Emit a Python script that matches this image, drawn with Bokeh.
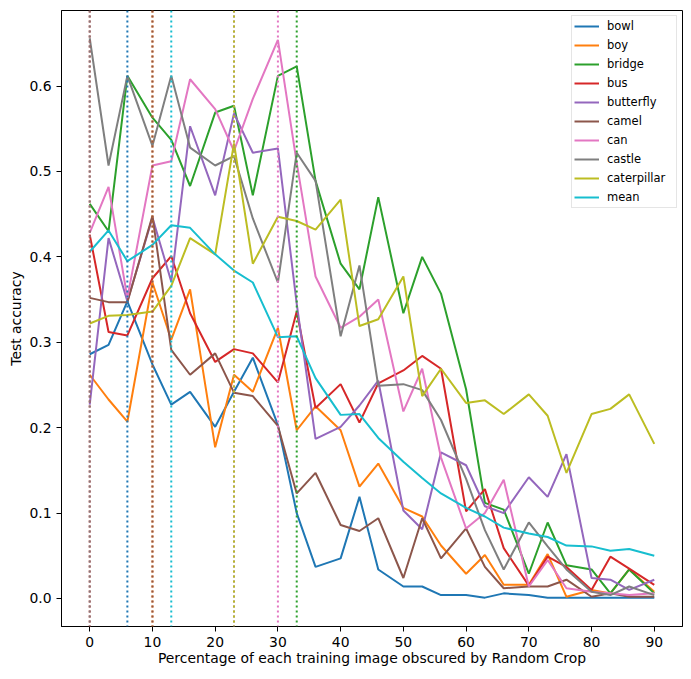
import numpy as np
from bokeh.plotting import figure
from bokeh.models import Range1d, FixedTicker, PrintfTickFormatter, Span, Legend, LegendItem
from bokeh.embed import file_html
from bokeh.resources import INLINE

x_pct = [0, 3, 6, 10, 13, 16, 20, 23, 26, 30, 33, 36, 40, 43, 46, 50, 53, 56, 60, 63, 66, 70, 73, 76, 80, 83, 86, 90]

bowl = [0.286, 0.297, 0.348, 0.274, 0.227, 0.242, 0.201, 0.242, 0.282, 0.203, 0.100, 0.037, 0.047, 0.119,
        0.034, 0.014, 0.014, 0.004, 0.004, 0.001, 0.006, 0.004, 0.001, 0.001, 0.001, 0.001, 0.001, 0.001]
boy = [0.262, 0.233, 0.207, 0.370, 0.303, 0.362, 0.177, 0.262, 0.242, 0.317, 0.197, 0.225, 0.197, 0.131,
       0.158, 0.106, 0.096, 0.062, 0.029, 0.051, 0.016, 0.016, 0.052, 0.002, 0.010, 0.006, 0.034, 0.008]
bridge = [0.462, 0.430, 0.612, 0.563, 0.537, 0.483, 0.569, 0.577, 0.472, 0.612, 0.623, 0.489, 0.392, 0.362,
          0.470, 0.334, 0.400, 0.357, 0.245, 0.112, 0.104, 0.029, 0.089, 0.039, 0.034, 0.006, 0.034, 0.006]
bus = [0.426, 0.312, 0.308, 0.375, 0.401, 0.334, 0.277, 0.292, 0.287, 0.253, 0.336, 0.223, 0.251, 0.206,
       0.252, 0.267, 0.284, 0.269, 0.102, 0.128, 0.059, 0.015, 0.049, 0.037, 0.010, 0.049, 0.035, 0.016]
butterfly = [0.227, 0.422, 0.348, 0.446, 0.371, 0.553, 0.472, 0.568, 0.522, 0.527, 0.345, 0.187, 0.201, 0.226,
             0.255, 0.103, 0.081, 0.171, 0.156, 0.108, 0.100, 0.142, 0.119, 0.169, 0.024, 0.022, 0.010, 0.022]
camel = [0.352, 0.347, 0.347, 0.448, 0.291, 0.262, 0.287, 0.241, 0.237, 0.202, 0.123, 0.147, 0.086, 0.079,
         0.094, 0.024, 0.094, 0.047, 0.082, 0.037, 0.012, 0.014, 0.014, 0.022, 0.002, 0.006, 0.002, 0.002]
can = [0.428, 0.482, 0.352, 0.507, 0.512, 0.608, 0.573, 0.524, 0.585, 0.654, 0.510, 0.377, 0.317, 0.330,
       0.350, 0.219, 0.269, 0.165, 0.082, 0.100, 0.139, 0.014, 0.045, 0.012, 0.008, 0.006, 0.004, 0.006]
castle = [0.656, 0.507, 0.612, 0.530, 0.612, 0.528, 0.507, 0.518, 0.445, 0.370, 0.522, 0.489, 0.307, 0.390,
          0.249, 0.251, 0.244, 0.209, 0.140, 0.080, 0.034, 0.089, 0.061, 0.034, 0.008, 0.004, 0.014, 0.004]
caterpillar = [0.322, 0.331, 0.332, 0.336, 0.366, 0.422, 0.403, 0.533, 0.392, 0.447, 0.442, 0.432, 0.467, 0.319,
               0.327, 0.377, 0.237, 0.269, 0.229, 0.232, 0.216, 0.239, 0.214, 0.147, 0.216, 0.222, 0.239, 0.181]
mean = [0.406, 0.431, 0.395, 0.414, 0.437, 0.434, 0.403, 0.384, 0.370, 0.306, 0.307, 0.258, 0.215, 0.216,
        0.188, 0.160, 0.141, 0.123, 0.106, 0.096, 0.083, 0.076, 0.072, 0.062, 0.061, 0.056, 0.058, 0.050]

names = ["bowl", "boy", "bridge", "bus", "butterfly", "camel", "can", "castle", "caterpillar", "mean"]
series = [bowl, boy, bridge, bus, butterfly, camel, can, castle, caterpillar, mean]
colors = ["#1f77b4", "#ff7f0e", "#2ca02c", "#d62728", "#9467bd",
          "#8c564b", "#e377c2", "#7f7f7f", "#bcbd22", "#17becf"]

FONT = "DejaVu Sans"

p = figure(output_backend="svg", toolbar_location=None,
           frame_width=621, frame_height=616,
           min_border_left=61, min_border_right=5, min_border_top=10, min_border_bottom=40,
           x_range=Range1d(-4.5, 94.5), y_range=Range1d(-0.0328, 0.6885))

p.xgrid.visible = False
p.ygrid.visible = False
p.outline_line_color = "black"
p.outline_line_width = 1
p.background_fill_color = "white"
p.border_fill_color = "white"

items = []
for name, ys, c in zip(names, series, colors):
    r = p.line(x_pct, ys, line_color=c, line_width=2)
    items.append(LegendItem(label=name, renderers=[r]))
    best = x_pct[int(np.argmax(ys))]
    p.add_layout(Span(location=best, dimension="height", line_color=c,
                      line_dash="2 3", line_width=2))

p.xaxis.ticker = FixedTicker(ticks=[0, 10, 20, 30, 40, 50, 60, 70, 80, 90])
p.yaxis.ticker = FixedTicker(ticks=[0.0, 0.1, 0.2, 0.3, 0.4, 0.5, 0.6])
p.yaxis.formatter = PrintfTickFormatter(format="%.1f")

for ax in (p.xaxis, p.yaxis):
    ax.axis_line_color = "black"
    ax.major_tick_line_color = "black"
    ax.major_tick_out = 5
    ax.major_tick_in = 0
    ax.minor_tick_line_color = None
    ax.major_label_text_font = FONT
    ax.major_label_text_font_size = "13.9px"
    ax.major_label_text_color = "black"
    ax.axis_label_text_font = FONT
    ax.axis_label_text_font_size = "13.9px"
    ax.axis_label_text_font_style = "normal"
    ax.axis_label_text_color = "black"

p.xaxis.major_label_standoff = 5
p.xaxis.axis_label_standoff = 0
p.yaxis.major_label_standoff = 5
p.yaxis.axis_label_standoff = 2

p.xaxis.axis_label = "Percentage of each training image obscured by Random Crop"
p.yaxis.axis_label = "Test accuracy"

legend = Legend(items=items, location="top_right")
legend.margin = 5
legend.padding = 2
legend.spacing = 3
legend.label_height = 16
legend.glyph_height = 16
legend.glyph_width = 25
legend.label_width = 67
legend.label_standoff = 8
legend.label_text_font = FONT
legend.label_text_font_size = "11.5px"
legend.label_text_color = "black"
legend.border_line_color = "#cccccc"
legend.border_line_width = 1
legend.background_fill_color = "white"
legend.background_fill_alpha = 0.8
p.add_layout(legend)

open("out.html", "w").write(file_html(p, INLINE))
